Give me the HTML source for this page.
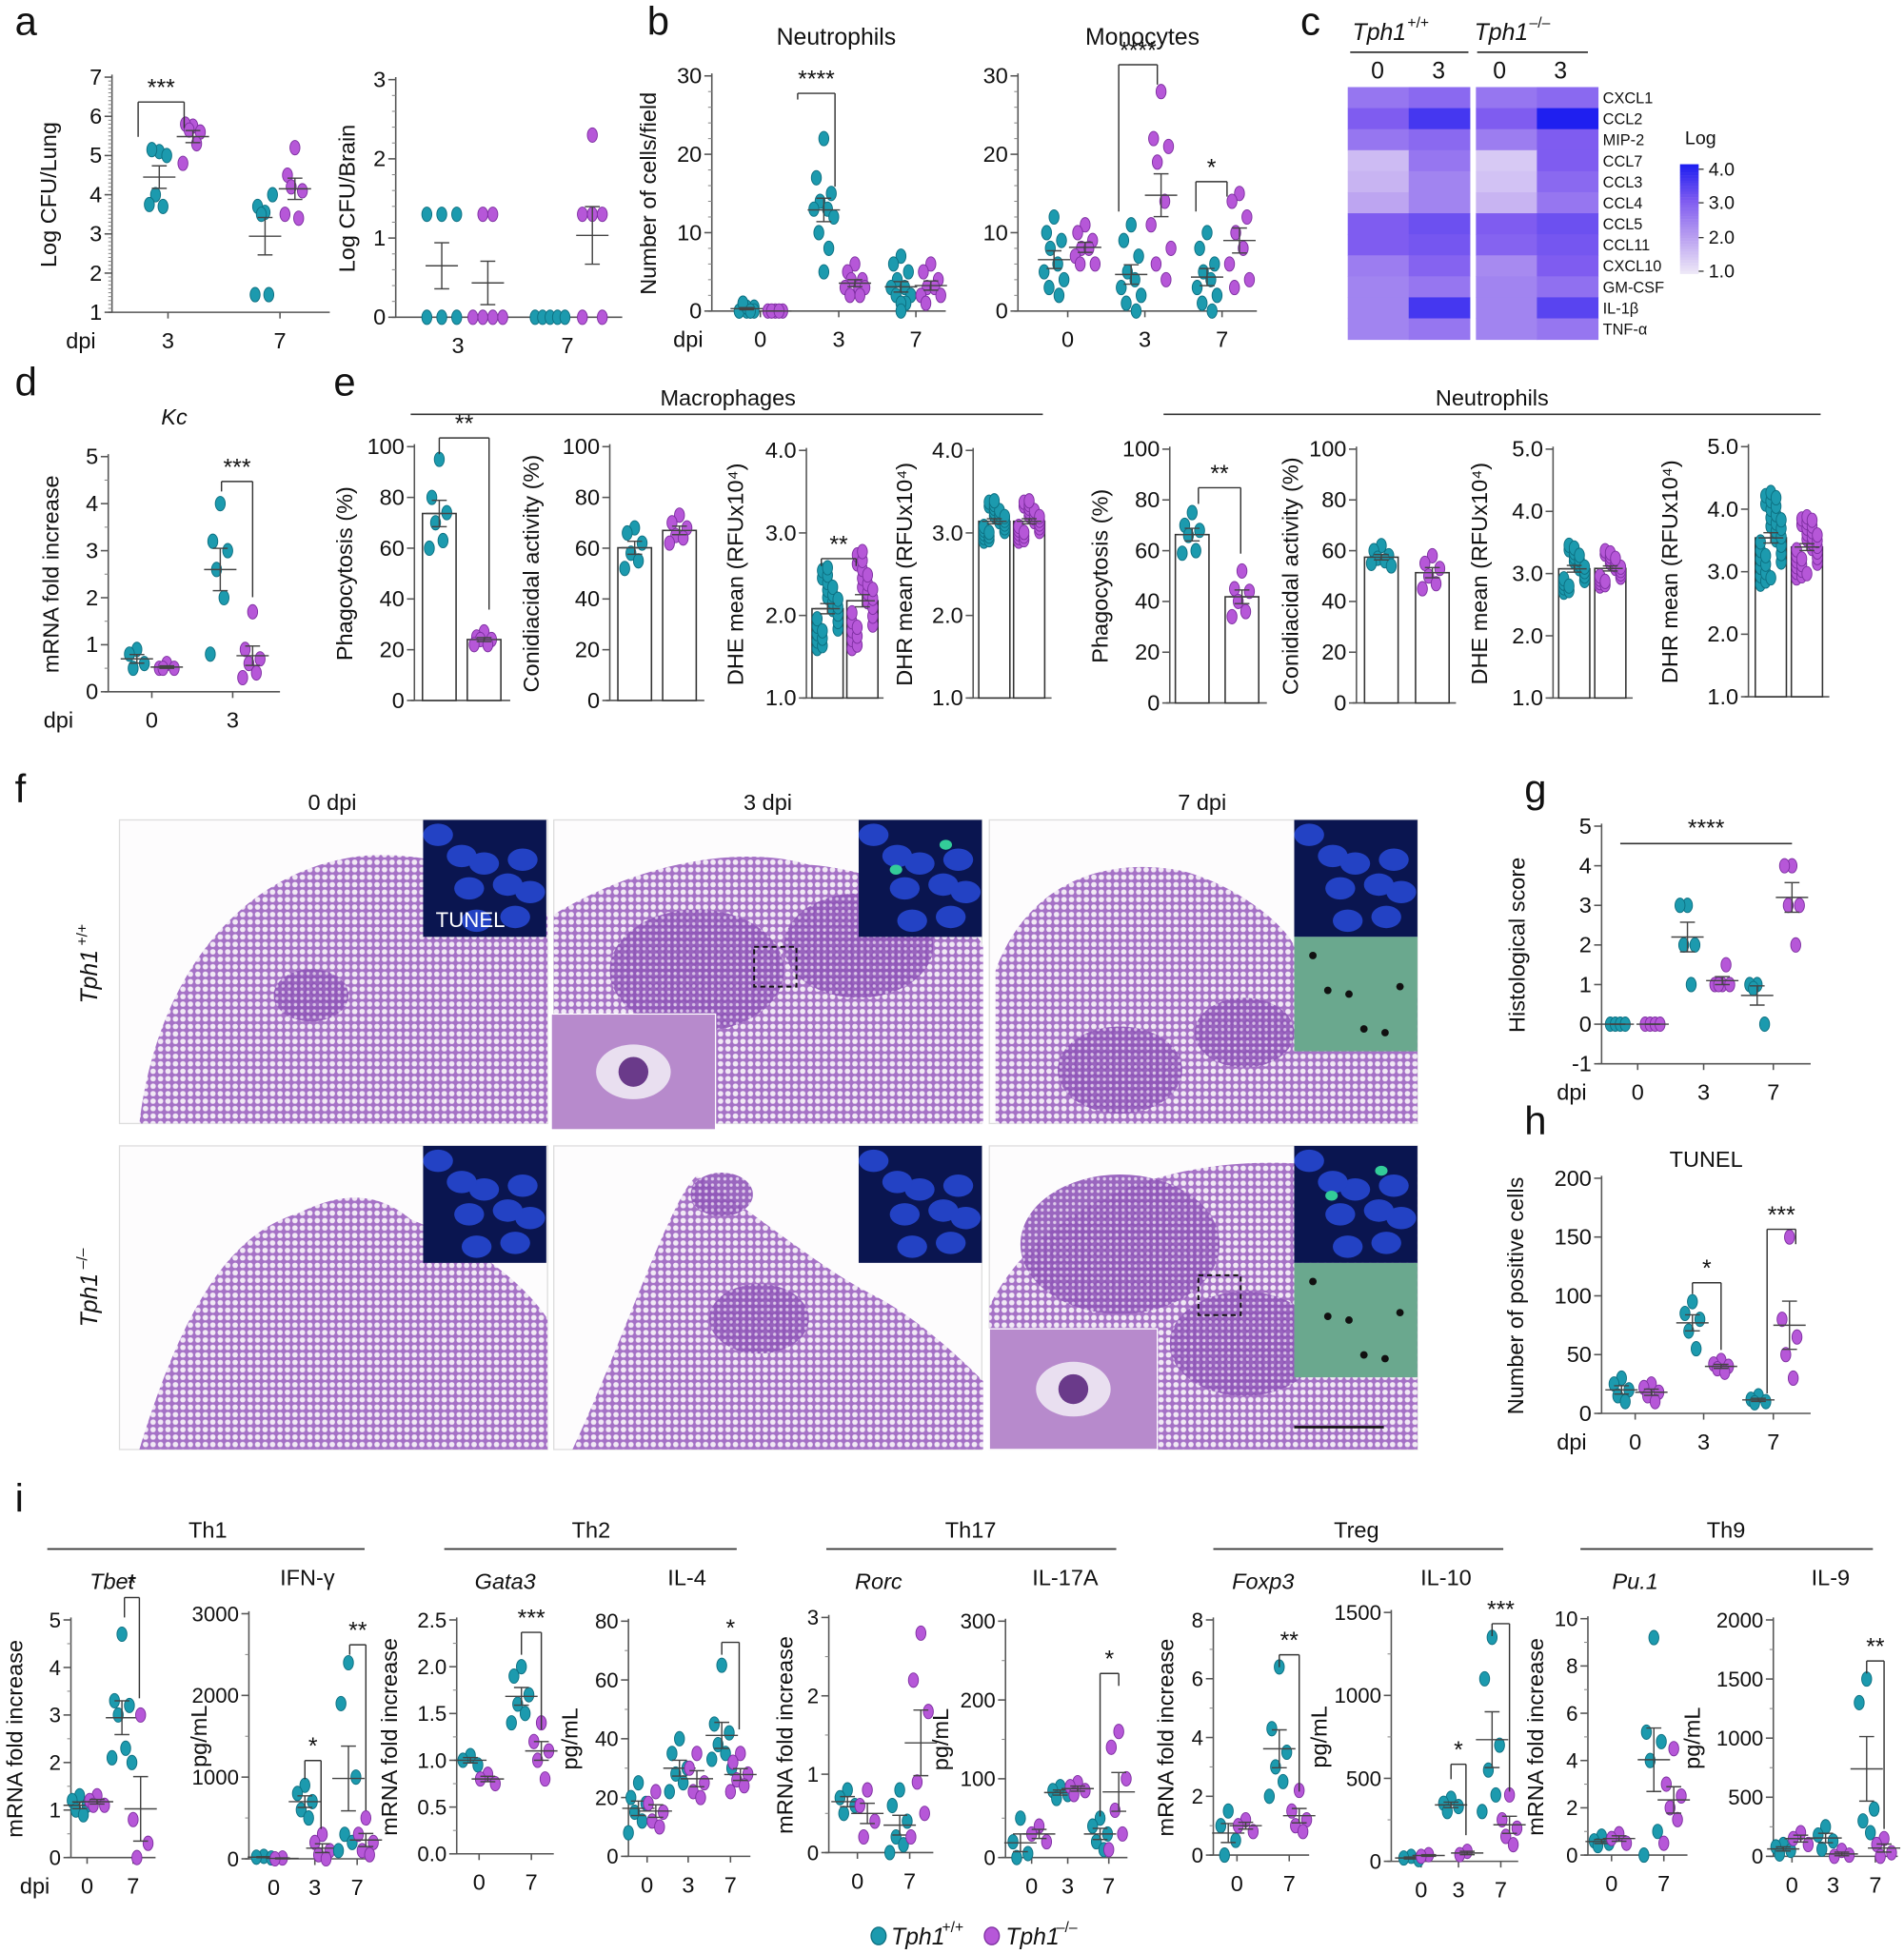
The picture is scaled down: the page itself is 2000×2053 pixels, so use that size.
<!DOCTYPE html>
<html><head><meta charset="utf-8"><style>
html,body{margin:0;padding:0;background:#fff}
svg{display:block}
text{font-family:"Liberation Sans",Arial,sans-serif;fill:#111}
</style></head><body>
<svg id="s" xmlns="http://www.w3.org/2000/svg" width="2000" height="2053" viewBox="0 0 1530 1570.5" preserveAspectRatio="none">
<defs>
<pattern id="alv" width="6" height="6" patternUnits="userSpaceOnUse">
<rect width="6" height="6" fill="#a571c6"/>
<circle cx="3" cy="3" r="2.2" fill="#f1e9f5"/>
</pattern>
<pattern id="alv2" width="5" height="5" patternUnits="userSpaceOnUse">
<rect width="5" height="5" fill="#8f55b8"/>
<circle cx="2.5" cy="2.5" r="1.3" fill="#d9c4e8"/>
</pattern>
</defs>
</svg>
<script>
const S=document.getElementById('s');const NS='http://www.w3.org/2000/svg';
function el(t,a,txt){const e=document.createElementNS(NS,t);for(const k in a)e.setAttribute(k,a[k]);if(txt!==undefined)e.textContent=txt;S.appendChild(e);return e;}
function L(x1,y1,x2,y2,w,c){return el('line',{x1,y1,x2,y2,stroke:c||'#333','stroke-width':w||1.2});}
function T(x,y,s,o){o=o||{};const a={x,y,'font-size':o.fs||17,'text-anchor':o.a||'middle'};if(o.it)a['font-style']='italic';if(o.w)a['font-weight']=o.w;if(o.rot)a.transform=`rotate(-90 ${x} ${y})`;return el('text',a,s);}
const TE='#1c9aae',TS='#0d6f80',PU='#b657d8',PS='#7d2fa0';
function axis(o){const m=v=>o.yB-(v-o.vB)*(o.yB-o.yT)/(o.vT-o.vB);
 L(o.x,o.yT-2,o.x,o.yB,1.2,'#555');
 o.ticks.forEach(t=>{const y=m(t);L(o.x-6,y,o.x,y,1.2,'#555');T(o.x-8,y+6,o.fmt?o.fmt(t):String(t),{a:'end',fs:o.tfs||18});});
 if(o.minor){for(let i=0;i<o.ticks.length-1;i++){const a=o.ticks[i],b=o.ticks[i+1];for(let k=1;k<o.minor;k++){const y=m(a+(b-a)*k/o.minor);L(o.x-3,y,o.x,y,0.8,'#888');}}}
 L(o.x-3,o.yB,o.xE,o.yB,1.2,'#555');
 (o.xl||[]).forEach(p=>{L(p[0],o.yB,p[0],o.yB+5,1.2,'#555');T(p[0],o.yB+29,p[1],{fs:18});});
 if(o.dpi)T(o.dpi,o.yB+29,'dpi',{fs:18});
 if(o.yl)T(o.ylx,(o.yT+o.yB)/2+(o.yoff||0),o.yl,{rot:1,fs:o.yfs||18});
 return m;}
function grp(m,xc,teal,vals,o){o=o||{};const c=teal?TE:PU,s=teal?TS:PS;
 const n=vals.length,mean=vals.reduce((a,b)=>a+b,0)/n;let sd=0;vals.forEach(v=>sd+=(v-mean)**2);const sem=n>1?Math.sqrt(sd/(n-1))/Math.sqrt(n):0;
 if(o.bar){el('rect',{x:xc-o.bar/2,y:m(mean),width:o.bar,height:o.yB-m(mean),fill:'#fff',stroke:'#333','stroke-width':1.2});}
 const off=[0,-6,6,-3,3,-8,8,-4,4,0];
 vals.forEach((v,i)=>{const dx=o.pts?o.pts[i]:(o.many?((i*7)%5-2)*(o.bar?o.bar/6:3):off[i%off.length]);
  el('ellipse',{cx:xc+dx,cy:m(v),rx:4,ry:5.8,fill:c,stroke:s,'stroke-width':0.7});});
 if(!o.nomean){const w=o.bar?o.bar*0.4:13;L(xc-w,m(mean),xc+w,m(mean),1.1,'#444');L(xc,m(mean-sem),xc,m(mean+sem),1.1,'#444');L(xc-6,m(mean-sem),xc+6,m(mean-sem),1.1,'#444');L(xc-6,m(mean+sem),xc+6,m(mean+sem),1.1,'#444');}}
function br(x1,x2,y,ya,yb,txt){L(x1,ya,x1,y,1.1,'#333');L(x1,y,x2,y,1.1,'#333');L(x2,y,x2,yb,1.1,'#333');T((x1+x2)/2,y-5,txt,{fs:19});}
function rng(a,b,n){const r=[];for(let i=0;i<n;i++)r.push(a+(b-a)*((i*0.618)%1));return r;}
[['a',12,28],['b',520,28],['c',1045,28],['d',12,318],['e',268,318],['f',12,645],['g',1225,645],['h',1225,912],['i',12,1215]].forEach(p=>T(p[1],p[2],p[0],{fs:32,a:'start'}));
// a
let m=axis({x:90,yT:62,yB:251,vT:7,vB:1,ticks:[1,2,3,4,5,6,7],minor:10,xE:265,xl:[[135,'3'],[225,'7']],dpi:65,yl:'Log CFU/Lung',ylx:45});
grp(m,128,1,[5.1,5.15,5.0,4.0,3.7,3.75]);grp(m,155,0,[5.75,5.8,5.6,5.65,5.3,4.8]);grp(m,213,1,[3.55,3.7,4.0,3.5,1.45,1.45]);grp(m,237,0,[5.2,4.5,4.1,4.2,3.4,3.5]);
br(111,148,82,110,103,'***');
m=axis({x:318,yT:64,yB:255,vT:3,vB:0,ticks:[0,1,2,3],minor:5,xE:500,xl:[[368,'3'],[456,'7']],yl:'Log CFU/Brain',ylx:285});
grp(m,355,1,[1.3,1.3,1.3,0,0,0],{pts:[-12,0,12,-12,0,12]});grp(m,392,0,[1.3,1.3,0,0,0,0],{pts:[-4,4,-12,-4,4,12]});
grp(m,442,1,[0,0,0,0,0],{pts:[-12,-6,0,6,12],nomean:1});grp(m,476,0,[2.3,1.3,1.3,1.3,0,0],{pts:[0,-8,0,8,-8,8]});
// b
T(672,36,'Neutrophils',{fs:19});T(918,36,'Monocytes',{fs:19});
m=axis({x:572,yT:61,yB:250,vT:30,vB:0,ticks:[0,10,20,30],minor:5,xE:760,xl:[[611,'0'],[674,'3'],[736,'7']],dpi:553,yl:'Number of cells/field',ylx:527});
grp(m,600,1,[0,0,0.5,1,0,0,0.5,0,1,0],{many:1});grp(m,623,0,[0,0,0,0,0]);grp(m,662,1,[22,17,15,14,13,13,12,10,8,5]);grp(m,687,0,[6,5,4,4,3,3,3,2,2]);grp(m,724,1,[7,6,5,4,3,3,2,2,1,1,0]);grp(m,748,0,[6,5,4,3,3,2,2,1]);
br(641,671,75,80,150,'****');
m=axis({x:818,yT:61,yB:250,vT:30,vB:0,ticks:[0,10,20,30],minor:5,xE:1010,xl:[[858,'0'],[920,'3'],[982,'7']]});
grp(m,847,1,[12,10,9,8,6,5,4,3,2]);grp(m,872,0,[11,10,9,8,8,7,6,6]);grp(m,909,1,[11,9,7,5,4,3,2,1,0]);grp(m,933,0,[28,22,21,19,14,11,8,6,4]);grp(m,970,1,[10,8,6,5,4,3,2,1,0]);grp(m,996,0,[15,14,12,10,8,6,4,3]);
br(899,930,52,170,68,'****');br(961,986,146,170,158,'*');
// c
const rows=['CXCL1','CCL2','MIP-2','CCL7','CCL3','CCL4','CCL5','CCL11','CXCL10','GM-CSF','IL-1β','TNF-α'];
const hv=[[2.6,2.8,2.6,2.8],[3.0,3.6,3.0,4.0],[2.6,2.8,2.5,3.0],[1.6,2.6,1.4,3.0],[1.7,2.4,1.5,2.8],[1.9,2.4,1.7,2.6],[3.0,3.2,3.0,3.2],[3.0,3.1,2.9,3.1],[2.5,2.9,2.3,3.0],[2.4,2.6,2.4,2.7],[2.4,3.6,2.4,3.4],[2.4,2.6,2.4,2.6]];
const stops=[[1,[236,230,247]],[2,[184,158,240]],[3,[127,92,240]],[4,[31,31,240]]];
function cm(v){v=Math.max(1,Math.min(4,v));for(let i=0;i<3;i++){const a=stops[i],b=stops[i+1];if(v<=b[0]){const t=(v-a[0]);return 'rgb('+a[1].map((x,j)=>Math.round(x+(b[1][j]-x)*t)).join(',')+')';}}}
const cx=[1083,1132,1186,1235];
rows.forEach((r,i)=>{const y=70+i*16.9;hv[i].forEach((v,j)=>el('rect',{x:cx[j],y,width:49.5,height:17.3,fill:cm(v)}));T(1288,y+13,r,{a:'start',fs:12.5});});
T(1130,32,'Tph1',{it:1,fs:19,a:'end'});T(1131,22,'+/+',{fs:12,a:'start'});T(1228,32,'Tph1',{it:1,fs:19,a:'end'});T(1229,22,'–/–',{fs:12,a:'start'});
L(1085,42,1180,42,1.3,'#333');L(1187,42,1276,42,1.3,'#333');
T(1107,63,'0',{fs:19});T(1156,63,'3',{fs:19});T(1205,63,'0',{fs:19});T(1254,63,'3',{fs:19});
for(let i=0;i<40;i++){el('rect',{x:1350,y:132+i*2.2,width:15,height:2.4,fill:cm(4-3*i/39)});}
T(1354,116,'Log',{fs:15,a:'start'});
[['4.0',136],['3.0',163],['2.0',191],['1.0',218]].forEach(p=>{L(1365,p[1],1369,p[1],1,'#333');T(1373,p[1]+5,p[0],{fs:15,a:'start'});});
// d
T(140,341,'Kc',{it:1,fs:18});
m=axis({x:87,yT:367,yB:556,vT:5,vB:0,ticks:[0,1,2,3,4,5],minor:2,xE:225,xl:[[122,'0'],[187,'3']],dpi:47,yl:'mRNA fold increase',ylx:47});
grp(m,110,1,[0.9,0.8,0.6,0.5]);grp(m,134,0,[0.6,0.5,0.5,0.5]);grp(m,177,1,[4.0,3.2,3.0,2.6,2.0,0.8]);grp(m,203,0,[1.7,0.9,0.7,0.6,0.4,0.3]);
br(178,203,387,395,480,'***');
// e
T(585,326,'Macrophages',{fs:18});L(330,333,838,333,1.3,'#333');T(1199,326,'Neutrophils',{fs:18});L(935,333,1463,333,1.3,'#333');
const pct=[0,20,40,60,80,100];
m=axis({x:333,yT:359,yB:563,vT:100,vB:0,ticks:pct,xE:410,yl:'Phagocytosis (%)',ylx:283});
grp(m,353,1,[95,80,74,70,63,60],{bar:27,yB:563});grp(m,389,0,[27,25,24,24,22,22],{bar:27,yB:563});br(353,393,352,365,490,'**');
m=axis({x:490,yT:359,yB:563,vT:100,vB:0,ticks:pct,xE:566,yl:'Conidiacidal activity (%)',ylx:433});
grp(m,510,1,[68,66,62,58,55,52],{bar:27,yB:563});grp(m,546,0,[73,70,68,65,64,62],{bar:27,yB:563});
m=axis({x:648,yT:362,yB:561,vT:4,vB:1,ticks:[1,2,3,4],fmt:v=>v.toFixed(1),xE:710,yl:'DHE mean (RFUx10⁴)',ylx:597});
grp(m,665,1,rng(1.6,2.6,24),{bar:25,yB:561,many:1});grp(m,693,0,rng(1.6,2.8,24),{bar:25,yB:561,many:1});br(660,688,449,455,455,'**');
m=axis({x:782,yT:362,yB:561,vT:4,vB:1,ticks:[1,2,3,4],fmt:v=>v.toFixed(1),xE:845,yl:'DHR mean (RFUx10⁴)',ylx:733});
grp(m,799,1,rng(2.9,3.4,24),{bar:25,yB:561,many:1});grp(m,827,0,rng(2.9,3.4,24),{bar:25,yB:561,many:1});
m=axis({x:940,yT:361,yB:565,vT:100,vB:0,ticks:pct,xE:1018,yl:'Phagocytosis (%)',ylx:890});
grp(m,958,1,[75,70,68,66,60,59],{bar:27,yB:565});grp(m,998,0,[52,45,44,40,36,34],{bar:27,yB:565});br(963,997,392,405,445,'**');
m=axis({x:1090,yT:361,yB:565,vT:100,vB:0,ticks:pct,xE:1170,yl:'Conidiacidal activity (%)',ylx:1043});
grp(m,1110,1,[62,60,58,57,56,55,54],{bar:27,yB:565});grp(m,1151,0,[58,55,53,50,47,45],{bar:27,yB:565});
m=axis({x:1248,yT:361,yB:561,vT:5,vB:1,ticks:[1,2,3,4,5],fmt:v=>v.toFixed(1),xE:1312,yl:'DHE mean (RFUx10⁴)',ylx:1195});
grp(m,1265,1,rng(2.7,3.5,20),{bar:25,yB:561,many:1});grp(m,1294,0,rng(2.8,3.4,20),{bar:25,yB:561,many:1});
m=axis({x:1405,yT:359,yB:560,vT:5,vB:1,ticks:[1,2,3,4,5],fmt:v=>v.toFixed(1),xE:1470,yl:'DHR mean (RFUx10⁴)',ylx:1348});
grp(m,1423,1,rng(2.8,4.3,30),{bar:25,yB:560,many:1});grp(m,1452,0,rng(2.9,3.9,30),{bar:25,yB:560,many:1});
// f
T(267,651,'0 dpi',{fs:18});T(617,651,'3 dpi',{fs:18});T(966,651,'7 dpi',{fs:18});
T(78,785,'Tph1',{it:1,rot:1,fs:19});T(70,760,'+/+',{rot:1,fs:12,a:'start'});T(78,1045,'Tph1',{it:1,rot:1,fs:19});T(70,1020,'–/–',{rot:1,fs:12,a:'start'});
const boxes=[[96,659],[445,659],[795,659],[96,921],[445,921],[795,921]];
const shapes=[
'M112,903 C125,790 190,700 290,688 C360,682 420,715 440,735 L440,903 Z',
'M445,735 C520,690 600,680 650,695 C720,700 780,740 790,760 L790,903 L445,903 Z',
'M800,903 L800,780 C830,700 900,690 950,700 C990,710 1030,740 1040,760 L1139,800 L1139,903 Z',
'M112,1165 C150,1040 190,990 240,975 C270,960 300,955 330,980 C380,1000 420,1030 440,1060 L440,1165 Z',
'M460,1165 C500,1080 540,960 560,945 C600,970 660,1020 700,1040 C740,1060 780,1100 790,1110 L790,1165 Z',
'M795,1050 C840,960 950,930 1040,935 L1139,940 L1139,1165 L795,1165 Z'];
boxes.forEach((b,i)=>{el('rect',{x:b[0],y:b[1],width:344,height:244,fill:'#fdfcfd',stroke:'#ddd'});el('path',{d:shapes[i],fill:'url(#alv)'});});
[[560,780,70],[690,760,60],[900,860,50],[1000,830,40],[900,1000,80],[1000,1080,60],[610,1060,40],[250,800,30],[580,960,25]].forEach(p=>el('ellipse',{cx:p[0],cy:p[1],rx:p[2],ry:p[2]*0.7,fill:'url(#alv2)',opacity:0.9}));
[[340,659],[690,659],[1040,659],[340,921],[690,921],[1040,921]].forEach((b,k)=>{el('rect',{x:b[0],y:b[1],width:99,height:94,fill:'#0a1550'});
 for(let i=0;i<9;i++){el('ellipse',{cx:b[0]+12+(i*37)%80,cy:b[1]+12+(i*23)%72,rx:12,ry:9,fill:'#2342c4'});}
 if(k==1||k==5){el('ellipse',{cx:b[0]+30,cy:b[1]+40,rx:5,ry:4,fill:'#3c9'});el('ellipse',{cx:b[0]+70,cy:b[1]+20,rx:5,ry:4,fill:'#3c9'});}});
T(378,745,'TUNEL',{fs:17}).setAttribute('style','fill:#fff');
[[1040,753],[1040,1015]].forEach(b=>{el('rect',{x:b[0],y:b[1],width:99,height:92,fill:'#6aa88e'});for(let i=0;i<6;i++)el('circle',{cx:b[0]+15+(i*29)%75,cy:b[1]+15+(i*31)%65,r:3,fill:'#111'});});
[[443,815,132,93],[795,1068,135,97]].forEach(b=>{el('rect',{x:b[0],y:b[1],width:b[2],height:b[3],fill:'#b78acc',stroke:'#fff'});el('ellipse',{cx:b[0]+b[2]/2,cy:b[1]+b[3]/2,rx:30,ry:22,fill:'#e9dff0'});el('circle',{cx:b[0]+b[2]/2,cy:b[1]+b[3]/2,r:12,fill:'#6a3a8a'});});
el('rect',{x:606,y:761,width:34,height:32,fill:'none',stroke:'#111','stroke-dasharray':'4,3','stroke-width':1.5});
el('rect',{x:963,y:1025,width:34,height:32,fill:'none',stroke:'#111','stroke-dasharray':'4,3','stroke-width':1.5});
L(1040,1147,1112,1147,2,'#111');
// g
m=axis({x:1287,yT:664,yB:855,vT:5,vB:-1,ticks:[-1,0,1,2,3,4,5],xE:1455,xl:[[1316,'0'],[1369,'3'],[1425,'7']],dpi:1263,yl:'Histological score',ylx:1225});
grp(m,1300,1,[0,0,0,0],{pts:[-6,-2,2,6]});grp(m,1328,0,[0,0,0,0],{pts:[-6,-2,2,6]});grp(m,1356,1,[3,3,2,2,1]);grp(m,1384,0,[1,1,1,1,1.5]);grp(m,1412,1,[1,1,0,0.9]);grp(m,1440,0,[4,4,3,3,2]);
L(1302,678,1440,678,1.2,'#333');T(1371,672,'****',{fs:19});
// h
T(1371,938,'TUNEL',{fs:18});
m=axis({x:1287,yT:947,yB:1136,vT:200,vB:0,ticks:[0,50,100,150,200],xE:1455,xl:[[1314,'0'],[1369,'3'],[1425,'7']],dpi:1263,yl:'Number of positive cells',ylx:1224});
grp(m,1303,1,[30,25,20,15,10]);grp(m,1327,0,[25,22,18,15,10]);grp(m,1360,1,[95,85,80,70,55]);grp(m,1383,0,[45,42,40,38,35]);grp(m,1413,1,[15,12,10,9]);grp(m,1438,0,[150,80,65,50,30]);
br(1360,1383,1031,1040,1085,'*');br(1420,1443,988,1120,1000,'***');
// i
[['Th1',167,38,293],['Th2',475,357,592],['Th17',780,664,897],['Treg',1090,975,1208],['Th9',1387,1270,1505]].forEach(g=>{T(g[1],1236,g[0],{fs:18});L(g[2],1245,g[3],1245,1.3,'#333');});
function ip(o){return axis(Object.assign({minor:2,tfs:17},o));}
T(90,1277,'Tbet',{it:1,fs:18});
m=ip({x:57,yT:1302,yB:1493,vT:5,vB:0,ticks:[0,1,2,3,4,5],xE:125,xl:[[70,'0'],[107,'7']],dpi:28,yl:'mRNA fold increase',ylx:18});
grp(m,64,1,[1.3,1.2,1.1,1.0,0.9]);grp(m,78,0,[1.3,1.2,1.1,1.1]);grp(m,98,1,[4.7,3.3,3.2,3.0,2.3,2.1,2.0]);grp(m,113,0,[3.0,0.8,0.3,0.0]);br(100,112,1284,1300,1365,'*');
T(247,1274,'IFN-γ',{fs:18});
m=ip({x:200,yT:1297,yB:1494,vT:3000,vB:0,ticks:[0,1000,2000,3000],xE:300,xl:[[220,'0'],[253,'3'],[287,'7']],yl:'pg/mL',ylx:166});
grp(m,212,1,[30,20,10]);grp(m,227,0,[10,0]);grp(m,245,1,[900,800,700,600,500]);grp(m,259,0,[300,200,100,50,0]);grp(m,280,1,[2400,1900,1000,300,200,100]);grp(m,294,0,[500,300,200,100,50]);
br(245,258,1415,1430,1470,'*');br(281,294,1322,1330,1455,'**');
T(406,1277,'Gata3',{it:1,fs:18});
m=ip({x:367,yT:1302,yB:1490,vT:2.5,vB:0,ticks:[0,0.5,1,1.5,2,2.5],fmt:v=>v.toFixed(1),xE:445,xl:[[385,'0'],[427,'7']],yl:'mRNA fold increase',ylx:319});
grp(m,378,1,[1.05,1.0,0.95]);grp(m,392,0,[0.85,0.8,0.75]);grp(m,419,1,[2.0,1.9,1.7,1.6,1.5,1.4]);grp(m,435,0,[1.4,1.2,1.1,1.0,0.8]);br(419,435,1312,1330,1390,'***');
T(552,1274,'IL-4',{fs:18});
m=ip({x:505,yT:1303,yB:1492,vT:80,vB:0,ticks:[0,20,40,60,80],xE:603,xl:[[520,'0'],[553,'3'],[587,'7']],yl:'pg/mL',ylx:464});
grp(m,513,1,[25,20,18,15,12,8]);grp(m,527,0,[22,18,15,12,10]);grp(m,546,1,[40,35,30,28,25,22]);grp(m,560,0,[35,30,25,22,20]);grp(m,580,1,[65,45,42,38,35,33,30]);grp(m,595,0,[35,32,28,26,24,22]);br(580,594,1320,1330,1390,'*');
T(706,1277,'Rorc',{it:1,fs:18});
m=ip({x:666,yT:1300,yB:1489,vT:3,vB:0,ticks:[0,1,2,3],xE:750,xl:[[689,'0'],[731,'7']],yl:'mRNA fold increase',ylx:637});
grp(m,681,1,[0.8,0.7,0.6,0.5]);grp(m,697,0,[0.8,0.6,0.4,0.2]);grp(m,723,1,[0.8,0.6,0.4,0.2,0.1,0]);grp(m,740,0,[2.8,2.2,1.8,0.9,0.5,0.2]);
T(856,1274,'IL-17A',{fs:18});
m=ip({x:808,yT:1303,yB:1493,vT:300,vB:0,ticks:[0,100,200,300],xE:906,xl:[[829,'0'],[858,'3'],[891,'7']],yl:'pg/mL',ylx:762});
grp(m,820,1,[50,20,5,0]);grp(m,835,0,[40,30,20]);grp(m,852,1,[90,85,80,75]);grp(m,866,0,[95,90,85,80]);grp(m,884,1,[50,40,30,20,10]);grp(m,899,0,[160,140,100,60,30,10]);br(884,899,1345,1460,1355,'*');
T(1015,1277,'Foxp3',{it:1,fs:18});
m=ip({x:975,yT:1302,yB:1491,vT:8,vB:0,ticks:[0,2,4,6,8],xE:1052,xl:[[994,'0'],[1036,'7']],yl:'mRNA fold increase',ylx:943});
grp(m,987,1,[1.5,1.0,0.5,0.0]);grp(m,1001,0,[1.2,1.0,0.8]);grp(m,1028,1,[6.4,4.3,3.5,3.0,2.5,2.0]);grp(m,1044,0,[2.2,1.5,1.2,1.0,0.8]);br(1028,1044,1330,1340,1440,'**');
T(1162,1274,'IL-10',{fs:18});
m=ip({x:1118,yT:1296,yB:1496,vT:1500,vB:0,ticks:[0,500,1000,1500],xE:1220,xl:[[1142,'0'],[1172,'3'],[1206,'7']],yl:'pg/mL',ylx:1066});
grp(m,1134,1,[30,20,10]);grp(m,1148,0,[40,30]);grp(m,1166,1,[380,350,330,300]);grp(m,1179,0,[60,40]);grp(m,1199,1,[1350,1100,700,550,400,300]);grp(m,1213,0,[400,250,200,150,100]);
br(1166,1178,1418,1430,1475,'*');br(1199,1213,1305,1315,1440,'***');
T(1314,1277,'Pu.1',{it:1,fs:18});
m=ip({x:1276,yT:1301,yB:1491,vT:10,vB:0,ticks:[0,2,4,6,8,10],xE:1356,xl:[[1295,'0'],[1337,'7']],yl:'mRNA fold increase',ylx:1240});
grp(m,1287,1,[0.8,0.6,0.5,0.4]);grp(m,1301,0,[0.9,0.7,0.5]);grp(m,1329,1,[9.2,5.2,4.8,4.0,1.0,0.0]);grp(m,1345,0,[4.5,3.0,2.5,2.0,1.5,0.5]);
T(1471,1274,'IL-9',{fs:18});
m=ip({x:1425,yT:1302,yB:1492,vT:2000,vB:0,ticks:[0,500,1000,1500,2000],xE:1525,xl:[[1440,'0'],[1473,'3'],[1507,'7']],yl:'pg/mL',ylx:1366});
grp(m,1433,1,[100,80,50,20]);grp(m,1447,0,[200,150,100]);grp(m,1467,1,[250,180,130,60]);grp(m,1480,0,[50,0,10]);grp(m,1500,1,[1500,1300,400,300,200]);grp(m,1514,0,[150,100,30,0]);br(1500,1514,1335,1345,1470,'**');
el('ellipse',{cx:706,cy:1556,rx:6,ry:7,fill:TE,stroke:TS});T(716,1563,'Tph1',{it:1,a:'start',fs:19});T(757,1553,'+/+',{a:'start',fs:12});
el('ellipse',{cx:797,cy:1556,rx:6,ry:7,fill:PU,stroke:PS});T(808,1563,'Tph1',{it:1,a:'start',fs:19});T(849,1553,'–/–',{a:'start',fs:12});
</script>
</body></html>
